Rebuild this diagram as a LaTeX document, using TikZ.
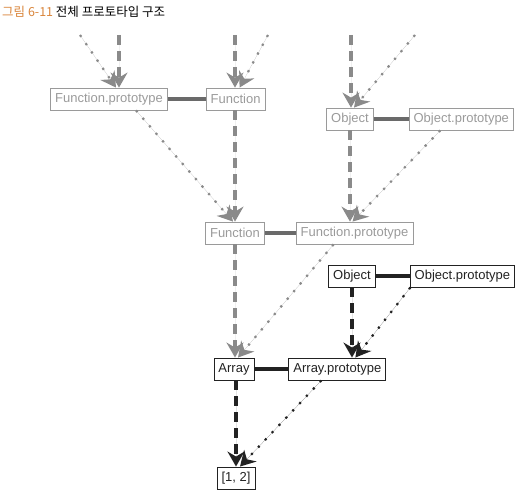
\documentclass[tikz,border=0pt]{standalone}
\usepackage{fontspec}
\setmainfont{Liberation Sans}
\newfontfamily\krfont{Noto Sans CJK KR}
\usetikzlibrary{positioning,arrows.meta}
\definecolor{torange}{HTML}{D9853B}
\definecolor{lgray}{HTML}{9A9A9A}
\definecolor{mgray}{HTML}{8A8A8A}
\definecolor{dgray}{HTML}{6A6A6A}
\definecolor{ink}{HTML}{222222}
\tikzset{
  gbox/.style={draw=lgray, text=lgray, line width=0.8pt, minimum height=22pt, inner xsep=4.5pt, font=\fontsize{13}{15}\selectfont},
  bbox/.style={draw=ink, text=ink, line width=0.9pt, minimum height=22pt, inner xsep=4.5pt, font=\fontsize{13}{15}\selectfont},
  tip/.style={-{Stealth[length=15pt, width=17pt, inset=5pt]}},
  gdash/.style={tip, draw=mgray, fill=mgray, line width=3.5pt, dash pattern=on 10pt off 6pt},
  bdash/.style={tip, draw=ink, fill=ink, line width=3.5pt, dash pattern=on 10pt off 6pt},
  gdot/.style={tip, draw=mgray, fill=mgray, line width=2.2pt, dash pattern=on 2.2pt off 7.8pt},
  bdot/.style={tip, draw=ink, fill=ink, line width=2.2pt, dash pattern=on 2.2pt off 7.8pt},
  glink/.style={draw=dgray, line width=3.5pt},
  blink/.style={draw=ink, line width=3.5pt},
}
\begin{document}
\begin{tikzpicture}[x=1pt, y=-1pt]
  \useasboundingbox (0,0) rectangle (524,494);
  \node[anchor=base west, inner sep=0pt, font=\krfont\fontsize{12.5}{14}\selectfont] (title) at (2,17)
    {{\color{torange}그림 6-11} 전체 프로토타입 구조};

  % upper gray part
  \node[gbox] (fp1) at (109,99) {Function.prototype};
  \node[gbox, right=38pt of fp1] (f1) {Function};
  \node[gbox] (o1) at (350,119) {Object};
  \node[gbox, right=35pt of o1] (op1) {Object.prototype};
  \node[gbox] (f2) at (235,233) {Function};
  \node[gbox, right=31pt of f2] (fp2) {Function.prototype};

  % lower black part
  \node[bbox] (o3) at (352,276) {Object};
  \node[bbox, right=34pt of o3] (op3) {Object.prototype};
  \node[bbox] (a) at (234,369) {Array};
  \node[bbox, right=34pt of a] (ap) {Array.prototype};
  \node[bbox] (l) at (236,478) {[1, 2]};

  % free ends at the top
  \coordinate (d1) at (119,35);
  \coordinate (s1) at (80,35);
  \coordinate (d2) at (235,35);
  \coordinate (s2) at (268,35);
  \coordinate (d3) at (351,35);
  \coordinate (s3) at (415,35);

  \draw[glink] (fp1) -- (f1);
  \draw[glink] (o1) -- (op1);
  \draw[glink] (f2) -- (fp2);
  \draw[blink] (o3) -- (op3);
  \draw[blink] (a) -- (ap);

  \draw[gdot] (s1) -- ([xshift=7pt]fp1.north);
  \draw[gdash] (d1) -- (d1 |- fp1.north);
  \draw[gdot] (s2) -- ([xshift=4pt]f1.north);
  \draw[gdash] (d2) -- (d2 |- f1.north);
  \draw[gdot] (s3) -- ([xshift=4pt]o1.north);
  \draw[gdash] (d3) -- (d3 |- o1.north);

  \draw[gdot] ([xshift=27pt]fp1.south) -- ([xshift=-2pt]f2.north);
  \draw[gdash] (f2.north |- f1.south) -- (f2.north);
  \draw[gdot] ([xshift=-21pt]op1.south) -- ([xshift=-2pt]fp2.north);
  \draw[gdash] (o1.south) -- (o1.south |- fp2.north);

  \draw[gdot] ([xshift=-21pt]fp2.south) -- ([xshift=4pt]a.north);
  \draw[gdash] (f2.south) -- (f2.south |- a.north);
  \draw[bdot] ([xshift=-52pt]op3.south) -- ([xshift=18pt]ap.north);
  \draw[bdash] (o3.south) -- (o3.south |- ap.north);

  \draw[bdot] ([xshift=-16pt]ap.south) -- ([xshift=4pt]l.north);
  \draw[bdash] (l.north |- a.south) -- (l.north);
\end{tikzpicture}
\end{document}
